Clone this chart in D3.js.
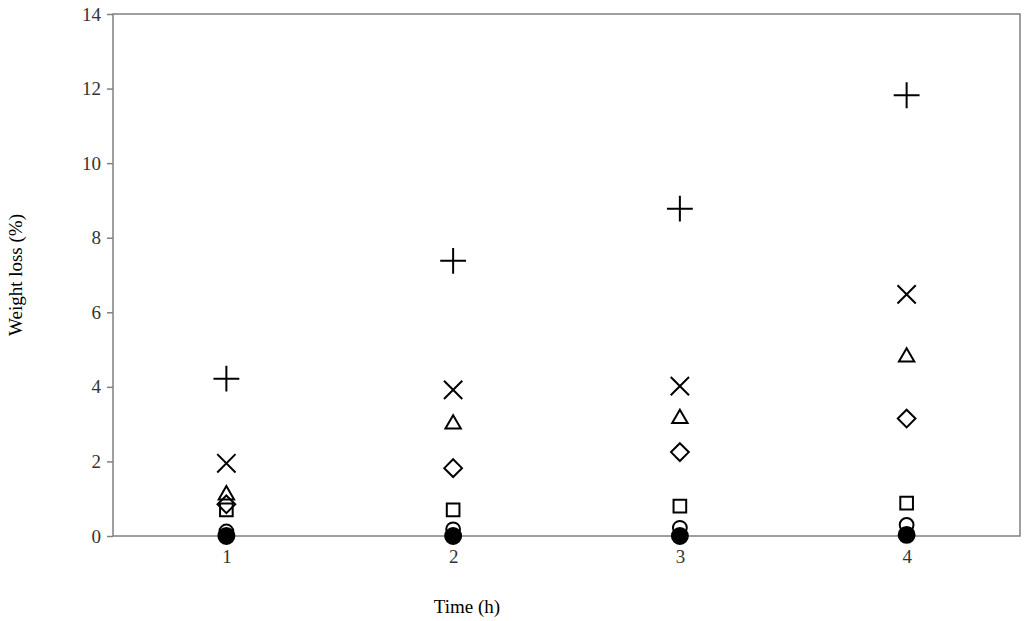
<!DOCTYPE html>
<html><head><meta charset="utf-8">
<script src="https://cdn.jsdelivr.net/npm/d3@7"></script>
<style>body{margin:0;background:#fff}</style>
</head><body>
<svg id="chart" width="1024" height="621"></svg>
<script>
// data
const times = [1, 2, 3, 4];
const plusVals = [4.22, 7.38, 8.78, 11.82];
const crossVals = [1.95, 3.92, 4.02, 6.48];
const triVals = [1.1, 3.0, 3.15, 4.8];
const diamondVals = [0.85, 1.82, 2.25, 3.15];
const squareVals = [0.7, 0.7, 0.8, 0.88];
const circleVals = [0.12, 0.18, 0.22, 0.3];
const filledVals = [0.0, 0.0, 0.0, 0.03];
const yTicks = [0, 2, 4, 6, 8, 10, 12, 14];

const svg = d3.select('#chart');
const mLeft = 113, mRight = 1020, mTop = 14, mBottom = 536;

const x = d3.scaleLinear().domain([0.5, 4.5]).range([mLeft, mRight]);
const y = d3.scaleLinear().domain([0, 14]).range([mBottom, mTop]);

// frame
svg.append('rect').attr('x', mLeft).attr('y', mTop)
    .attr('width', mRight - mLeft).attr('height', mBottom - mTop)
    .attr('fill', 'none').attr('stroke', '#808080').attr('stroke-width', 1.5);

const font = '"Liberation Serif", "DejaVu Serif", serif';

const yAxis = svg.append('g').attr('transform', `translate(${mLeft},0)`)
    .call(d3.axisLeft(y).tickValues(yTicks).tickSize(6).tickSizeOuter(0));
const xAxis = svg.append('g').attr('transform', `translate(0,${mBottom})`)
    .call(d3.axisBottom(x).tickValues(times).tickSize(6).tickSizeOuter(0).tickFormat(d3.format('d')));
[xAxis, yAxis].forEach(a => {
    a.select('.domain').remove();
    a.selectAll('line').attr('stroke', '#808080').attr('stroke-width', 1.5);
    a.selectAll('text').attr('font-family', font).attr('font-size', 19).attr('fill', '#333');
});
yAxis.selectAll('text').attr('x', -12);
xAxis.selectAll('text').attr('y', 14);

svg.append('text').attr('x', 467).attr('y', 613)
    .attr('text-anchor', 'middle').attr('font-family', font).attr('font-size', 19).text('Time (h)');
svg.append('text').attr('transform', `translate(22,${(mTop + mBottom) / 2}) rotate(-90)`)
    .attr('text-anchor', 'middle').attr('font-family', font).attr('font-size', 19).text('Weight loss (%)');

const series = [
    {vals: filledVals, type: d3.symbolCircle, size: 200, fill: '#000'},
    {vals: circleVals, type: d3.symbolCircle, size: 150, fill: 'none'},
    {vals: squareVals, type: d3.symbolSquare, size: 160, fill: 'none'},
    {vals: diamondVals, type: d3.symbolDiamond2, size: 200, fill: 'none'},
    {vals: triVals, type: d3.symbolTriangle2, size: 170, fill: 'none'},
    {vals: crossVals, type: d3.symbolX, size: 220, fill: 'none'},
    {vals: plusVals, type: d3.symbolPlus, size: 220, fill: 'none'}
];

series.forEach(s => {
    const sym = d3.symbol().type(s.type).size(s.size);
    svg.append('g').selectAll('path')
        .data(times.map((t, i) => [t, s.vals[i]]))
        .enter().append('path')
        .attr('d', sym)
        .attr('transform', d => `translate(${x(d[0])},${y(d[1])})`)
        .attr('fill', s.fill)
        .attr('stroke', '#000')
        .attr('stroke-width', 2);
});
</script>
</body></html>
